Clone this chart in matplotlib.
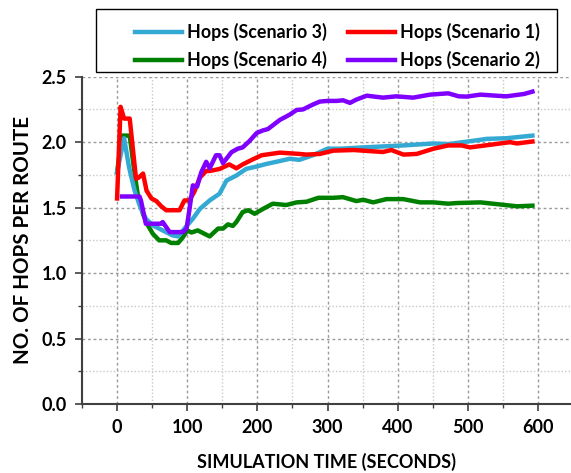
import matplotlib
matplotlib.use("Agg")
import matplotlib.pyplot as plt
from matplotlib.ticker import MultipleLocator
from matplotlib.patches import Rectangle

plt.rcParams['font.family'] = ['Lato', 'DejaVu Sans']
plt.rcParams['font.weight'] = 'bold'

# Hops (Scenario 1)
t_s1 = [0, 5, 10, 18, 27, 31, 37, 42, 49, 56, 63, 70, 89, 96, 103, 110, 118, 127,
        132, 146, 160, 170, 179, 194, 206, 232, 260, 270, 289, 308, 337, 365, 379,
        391, 408, 427, 451, 472, 491, 503, 532, 560, 570, 592]
hops_s1 = [1.57, 2.27, 2.18, 2.18, 1.72, 1.73, 1.76, 1.63, 1.57, 1.55, 1.51, 1.48,
           1.48, 1.555, 1.555, 1.62, 1.73, 1.78, 1.78, 1.795, 1.83, 1.80, 1.83,
           1.87, 1.90, 1.92, 1.91, 1.905, 1.91, 1.935, 1.94, 1.93, 1.925, 1.94,
           1.905, 1.91, 1.95, 1.975, 1.975, 1.96, 1.98, 2.0, 1.99, 2.005]

# Hops (Scenario 2)
t_s2 = [7, 32, 34, 41, 63, 65, 75, 94, 99, 103, 108, 114, 120, 127, 132, 141, 146,
        151, 163, 172, 179, 189, 199, 208, 215, 232, 246, 256, 265, 279, 289, 300,
        313, 322, 332, 341, 356, 379, 398, 422, 446, 472, 487, 498, 518, 537, 555,
        580, 592]
hops_s2 = [1.585, 1.585, 1.555, 1.377, 1.377, 1.39, 1.313, 1.313, 1.34, 1.48, 1.67,
           1.66, 1.77, 1.85, 1.80, 1.90, 1.90, 1.84, 1.923, 1.95, 1.96, 2.01, 2.07,
           2.09, 2.10, 2.17, 2.21, 2.246, 2.25, 2.287, 2.31, 2.315, 2.315, 2.32,
           2.30, 2.325, 2.355, 2.34, 2.35, 2.34, 2.363, 2.373, 2.35, 2.348, 2.363,
           2.356, 2.35, 2.368, 2.386]

# Hops (Scenario 3)
t_s3 = [0, 10, 17, 25, 32, 41, 51, 65, 79, 87, 96, 108, 118, 132, 146, 156, 170,
        184, 199, 213, 227, 246, 260, 279, 300, 318, 351, 408, 451, 472, 500, 527,
        555, 592]
hops_s3 = [1.77, 2.03, 1.81, 1.63, 1.52, 1.415, 1.364, 1.326, 1.288, 1.28, 1.34,
           1.415, 1.49, 1.555, 1.606, 1.707, 1.745, 1.796, 1.814, 1.834, 1.85,
           1.873, 1.865, 1.90, 1.95, 1.95, 1.96, 1.975, 1.99, 1.985, 2.005, 2.025,
           2.03, 2.05]

# Hops (Scenario 4)
t_s4 = [0, 7, 18, 25, 30, 37, 44, 51, 60, 70, 77, 87, 94, 100, 106, 115, 132, 144,
        151, 158, 165, 170, 179, 187, 196, 208, 222, 241, 256, 270, 287, 300, 308,
        322, 341, 351, 365, 384, 408, 432, 451, 472, 484, 518, 546, 570, 592]
hops_s4 = [1.77, 2.05, 2.05, 1.76, 1.58, 1.45, 1.364, 1.30, 1.25, 1.25, 1.23, 1.23,
           1.275, 1.326, 1.31, 1.326, 1.28, 1.34, 1.34, 1.372, 1.36, 1.39, 1.466,
           1.48, 1.453, 1.49, 1.53, 1.52, 1.54, 1.545, 1.575, 1.575, 1.575, 1.58,
           1.55, 1.56, 1.54, 1.565, 1.565, 1.54, 1.54, 1.53, 1.535, 1.54, 1.524,
           1.51, 1.515]

W, H = 571, 473
fig = plt.figure(figsize=(W / 100, H / 100), dpi=100)
ax = fig.add_axes([82 / W, 69 / H, 489 / W, 327.3 / H])

lw = 3.2
l4, = ax.plot(t_s4, hops_s4, color='#008000', lw=lw, label='Hops (Scenario 4)')
l3, = ax.plot(t_s3, hops_s3, color='#33a9d3', lw=lw, label='Hops (Scenario 3)')
l1, = ax.plot(t_s1, hops_s1, color='#ff0000', lw=lw, label='Hops (Scenario 1)')
l2, = ax.plot(t_s2, hops_s2, color='#8000ff', lw=lw, label='Hops (Scenario 2)')

ax.set_xlim(-50, 647)
ax.set_ylim(0, 2.5)
ax.xaxis.set_major_locator(MultipleLocator(100))
ax.xaxis.set_minor_locator(MultipleLocator(50))
ax.yaxis.set_major_locator(MultipleLocator(0.5))
ax.yaxis.set_minor_locator(MultipleLocator(0.25))
ax.yaxis.set_major_formatter(plt.FormatStrFormatter('%.1f'))

ax.grid(which='major', color='#9a9a9a', linestyle=(0, (2, 2)), lw=1)
ax.grid(which='minor', color='#c8c8c8', linestyle=(0, (1, 1.5)), lw=1)
ax.set_axisbelow(True)

for s in ['top', 'right']:
    ax.spines[s].set_visible(False)
for s in ['left', 'bottom']:
    ax.spines[s].set_color('#404040')
    ax.spines[s].set_linewidth(1.5)

ax.tick_params(which='major', direction='out', length=5, width=1.2, color='#404040',
               labelsize=13, pad=6)
ax.tick_params(which='minor', direction='out', length=3, width=1, color='#404040')
for lab in ax.get_xticklabels() + ax.get_yticklabels():
    lab.set_fontweight('bold')

ax.set_xlabel('SIMULATION TIME (SECONDS)', fontsize=13, fontweight='bold', labelpad=12)
ax.set_ylabel('NO. OF HOPS PER ROUTE', fontsize=14.8, fontweight='bold', labelpad=6)

# legend box (drawn separately so the padding matches the original)
fig.patches.append(Rectangle((96 / W, 1 - 72 / H), (557 - 96) / W, (72 - 9) / H,
                             transform=fig.transFigure, fill=False,
                             edgecolor='black', lw=1))
order = [l3, l4, l1, l2]
leg = fig.legend(order, [l.get_label() for l in order], ncol=2, loc='upper left',
                 bbox_to_anchor=(135 / W, 1 - 23 / H), frameon=False,
                 prop={'weight': 'bold', 'size': 12.9}, handlelength=2.6,
                 handletextpad=0.3, columnspacing=1.2, borderpad=0,
                 borderaxespad=0, labelspacing=0.55)

fig.savefig('out.png', dpi=100)
